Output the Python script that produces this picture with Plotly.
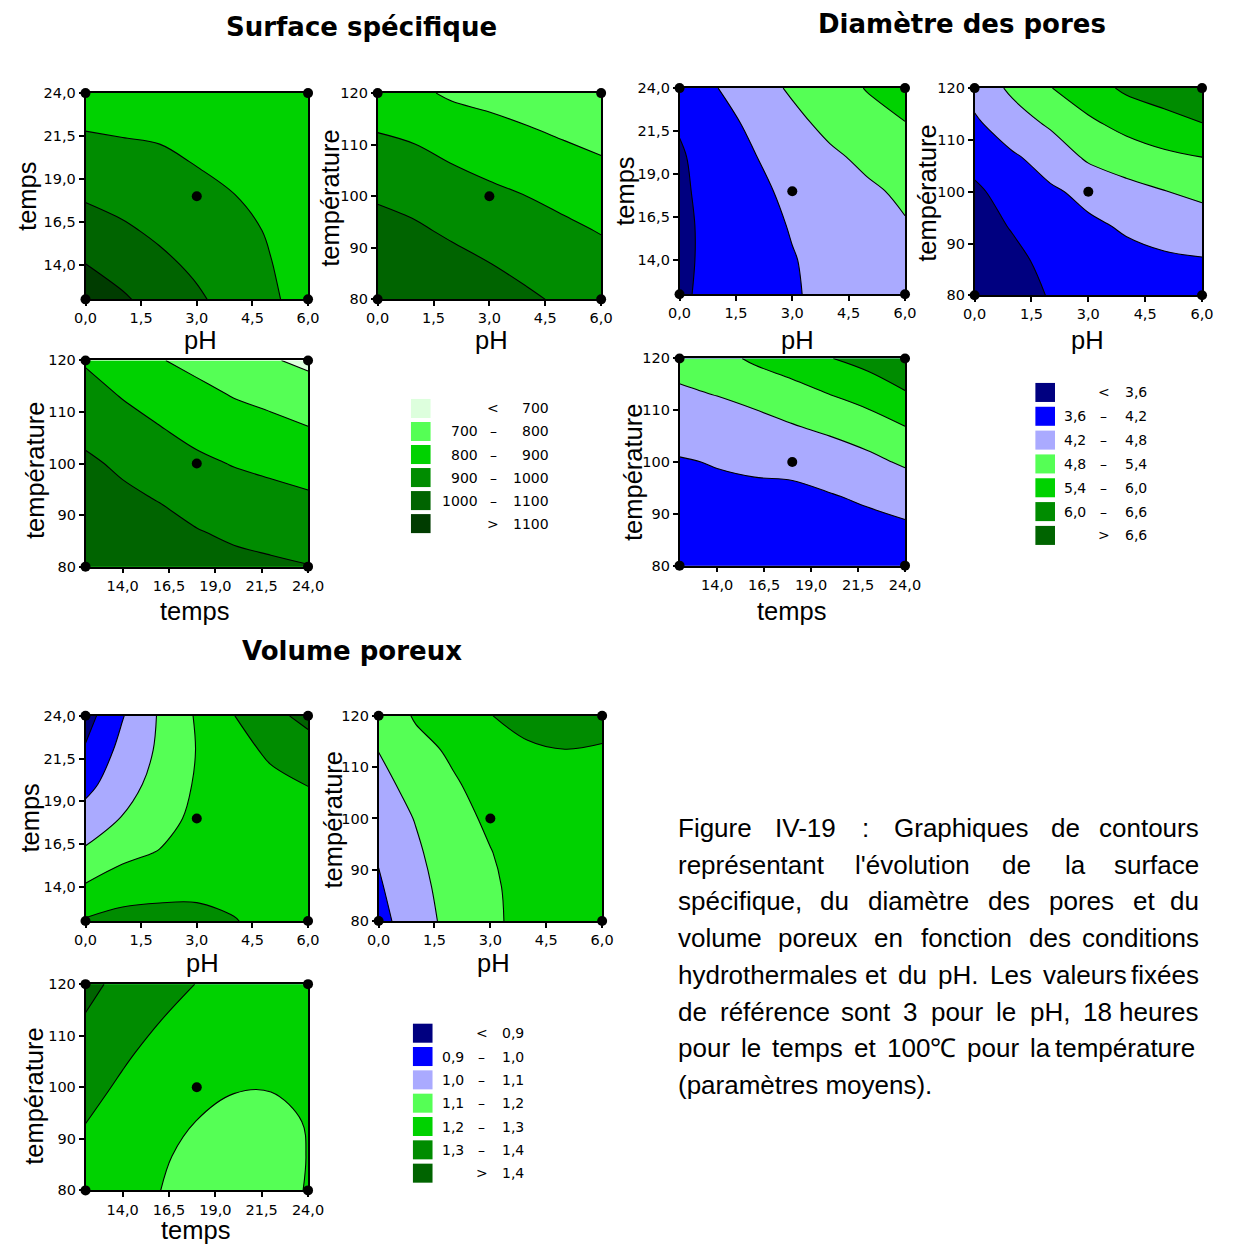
import plotly.graph_objects as go

W, H = 1234, 1246
# page offset / vertical scale of the rendered page
OFF_X, OFF_Y, SCALE_X, SCALE_Y = 1.0, 9.0, 0.997, 0.986

# ---- experimental domain (grid nodes of the response surfaces) ----
PH = [0, 1, 2, 3, 4, 5, 6]
TEMPS = [12, 14, 16, 18, 20, 22, 24]
TEMPERATURE = [80, 86.67, 93.33, 100, 106.67, 113.33, 120]

PH_REF, TEMPS_REF, TEMPERATURE_REF = 3, 18, 100

PH_TICKS = [0, 1.5, 3, 4.5, 6]
TEMPS_TICKS = [14, 16.5, 19, 21.5, 24]
TEMPERATURE_TICKS = [80, 90, 100, 110, 120]

# ---- contour levels and band colours ----
SURF_LEVELS = [700, 800, 900, 1000, 1100]
DIAM_LEVELS = [3.6, 4.2, 4.8, 5.4, 6.0, 6.6]
VOL_LEVELS = [0.9, 1.0, 1.1, 1.2, 1.3, 1.4]

SURF_COLORS = ['#ddffdd', '#55ff55', '#00d200', '#008c00', '#006400', '#003c00']
BG_COLORS = ['#000080', '#0000ff', '#aaaaff', '#55ff55', '#00d200', '#008c00', '#006400']

# ---- surface spécifique (rows = y nodes, columns = x nodes) ----
SURF_PH_TEMPS = [
    [1162, 1112, 1063, 1014, 964, 913, 863],
    [1102, 1064, 1021, 983, 943, 902, 865],
    [1045, 1014, 983, 954, 922, 893, 867],
    [990, 970, 950, 925, 901, 886, 868],
    [942, 929, 917, 896, 890, 880, 868],
    [895, 888, 884, 880, 878, 873, 866],
    [855, 853, 852, 860, 865, 866, 862],
]
SURF_PH_TEMPERATURE = [
    [1090, 1075, 1060, 1045, 1015, 985, 960],
    [1065, 1045, 1030, 1003, 975, 955, 935],
    [1036, 1014, 985, 960, 938, 920, 895],
    [989, 970, 945, 920, 900, 875, 850],
    [940, 924, 897, 875, 850, 830, 808],
    [893, 878, 848, 823, 803, 782, 765],
    [845, 820, 785, 772, 760, 745, 730],
]
SURF_TEMPS_TEMPERATURE = [
    [1085, 1075, 1060, 1040, 1025, 1015, 1003],
    [1060, 1045, 1030, 1005, 985, 970, 960],
    [1035, 1017, 995, 965, 945, 925, 912],
    [1015, 985, 950, 920, 895, 880, 860],
    [976, 938, 905, 870, 845, 830, 805],
    [934, 894, 858, 825, 795, 770, 745],
    [891, 850, 805, 775, 755, 708, 680],
]

# ---- diamètre des pores ----
DIAM_PH_TEMPS = [
    [3.53, 3.74, 3.95, 4.15, 4.34, 4.52, 4.68],
    [3.51, 3.73, 3.95, 4.17, 4.38, 4.57, 4.74],
    [3.50, 3.745, 3.99, 4.24, 4.45, 4.62, 4.76],
    [3.51, 3.80, 4.09, 4.31, 4.51, 4.71, 4.90],
    [3.54, 3.86, 4.18, 4.46, 4.70, 4.93, 5.15],
    [3.65, 3.98, 4.34, 4.65, 4.96, 5.20, 5.39],
    [3.82, 4.19, 4.55, 4.88, 5.16, 5.43, 5.70],
]
DIAM_PH_TEMPERATURE = [
    [3.00, 3.20, 3.66, 3.90, 3.95, 3.95, 3.95],
    [3.15, 3.42, 3.80, 4.00, 4.08, 4.12, 4.16],
    [3.30, 3.65, 3.96, 4.12, 4.25, 4.40, 4.52],
    [3.47, 3.90, 4.13, 4.32, 4.62, 4.78, 4.93],
    [3.85, 4.13, 4.42, 4.90, 5.08, 5.28, 5.40],
    [4.12, 4.52, 4.90, 5.30, 5.60, 5.80, 6.00],
    [4.40, 4.92, 5.38, 5.75, 6.10, 6.30, 6.62],
]
DIAM_TEMPS_TEMPERATURE = [
    [3.75, 3.78, 3.80, 3.82, 3.84, 3.86, 3.88],
    [3.90, 3.93, 3.96, 3.99, 4.00, 4.04, 4.10],
    [4.03, 4.07, 4.11, 4.13, 4.17, 4.27, 4.40],
    [4.16, 4.23, 4.27, 4.28, 4.44, 4.65, 4.88],
    [4.43, 4.50, 4.60, 4.75, 4.92, 5.10, 5.38],
    [4.72, 4.83, 4.98, 5.20, 5.42, 5.65, 5.95],
    [5.02, 5.20, 5.50, 5.70, 5.98, 6.20, 6.65],
]

# ---- volume poreux ----
VOL_PH_TEMPS = [
    [1.310, 1.335, 1.345, 1.335, 1.305, 1.270, 1.235],
    [1.210, 1.250, 1.260, 1.270, 1.270, 1.255, 1.235],
    [1.115, 1.175, 1.205, 1.245, 1.255, 1.250, 1.245],
    [1.040, 1.105, 1.160, 1.225, 1.250, 1.260, 1.270],
    [0.970, 1.060, 1.135, 1.210, 1.255, 1.280, 1.302],
    [0.910, 1.030, 1.115, 1.203, 1.270, 1.315, 1.355],
    [0.860, 0.995, 1.110, 1.210, 1.298, 1.370, 1.430],
]
VOL_PH_TEMPERATURE = [
    [0.975, 1.045, 1.140, 1.180, 1.235, 1.255, 1.260],
    [0.990, 1.065, 1.148, 1.185, 1.235, 1.255, 1.260],
    [1.008, 1.085, 1.158, 1.197, 1.240, 1.260, 1.262],
    [1.040, 1.105, 1.170, 1.215, 1.250, 1.265, 1.268],
    [1.070, 1.135, 1.190, 1.235, 1.265, 1.277, 1.278],
    [1.102, 1.170, 1.215, 1.262, 1.290, 1.299, 1.293],
    [1.135, 1.210, 1.245, 1.298, 1.325, 1.340, 1.330],
]
VOL_TEMPS_TEMPERATURE = [
    [1.240, 1.215, 1.201, 1.165, 1.140, 1.135, 1.210],
    [1.270, 1.235, 1.210, 1.180, 1.155, 1.150, 1.203],
    [1.302, 1.260, 1.225, 1.199, 1.178, 1.175, 1.205],
    [1.333, 1.285, 1.245, 1.222, 1.205, 1.204, 1.225],
    [1.364, 1.315, 1.270, 1.245, 1.230, 1.230, 1.245],
    [1.395, 1.345, 1.303, 1.270, 1.255, 1.255, 1.265],
    [1.425, 1.375, 1.335, 1.298, 1.280, 1.280, 1.290],
]

CAPTION_LINES = [
    "Figure IV-19 : Graphiques de contours",
    "représentant l'évolution de la surface",
    "spécifique, du diamètre des pores et du",
    "volume poreux en fonction des conditions",
    "hydrothermales et du pH. Les valeurs fixées",
    "de référence sont 3 pour le pH, 18 heures",
    "pour le temps et 100℃ pour la température",
    "(paramètres moyens).",
]


def fr(v, dec=1):
    return f"{v:.{dec}f}".replace('.', ',')


def px(x):
    return (x - OFF_X) / SCALE_X / W


def py(y):
    return 1 - (y - OFF_Y) / SCALE_Y / H


AXES = {
    'pH': (PH, PH_TICKS, [fr(v) for v in PH_TICKS], PH_REF),
    'temps': (TEMPS, TEMPS_TICKS, [fr(v) for v in TEMPS_TICKS], TEMPS_REF),
    'température': (TEMPERATURE, TEMPERATURE_TICKS, [str(v) for v in TEMPERATURE_TICKS], TEMPERATURE_REF),
}

# panel: data, x variable, y variable, levels, colours, plot box (px), x-title pos, y-title pos
PANELS = [
    (SURF_PH_TEMPS, 'pH', 'temps', SURF_LEVELS, SURF_COLORS, (76, 94, 303, 300), (193, 341), (17, 197)),
    (SURF_PH_TEMPERATURE, 'pH', 'température', SURF_LEVELS, SURF_COLORS, (374, 94, 602, 300), (490, 341), (326, 199)),
    (SURF_TEMPS_TEMPERATURE, 'temps', 'température', SURF_LEVELS, SURF_COLORS, (76, 361, 303, 567), (187, 611), (24, 471)),
    (DIAM_PH_TEMPS, 'pH', 'temps', DIAM_LEVELS, BG_COLORS, (682, 89, 912, 295), (802, 341), (627, 192)),
    (DIAM_PH_TEMPERATURE, 'pH', 'température', DIAM_LEVELS, BG_COLORS, (983, 89, 1215, 296), (1098, 341), (935, 194)),
    (DIAM_TEMPS_TEMPERATURE, 'temps', 'température', DIAM_LEVELS, BG_COLORS, (682, 359, 912, 566), (796, 611), (634, 472)),
    (VOL_PH_TEMPS, 'pH', 'temps', VOL_LEVELS, BG_COLORS, (76, 716, 303, 921), (195, 963), (19, 818)),
    (VOL_PH_TEMPERATURE, 'pH', 'température', VOL_LEVELS, BG_COLORS, (375, 716, 603, 921), (492, 963), (328, 820)),
    (VOL_TEMPS_TEMPERATURE, 'temps', 'température', VOL_LEVELS, BG_COLORS, (76, 984, 303, 1190), (188, 1230), (24, 1096)),
]

TICK_FONT = dict(family='DejaVu Sans', size=14.5, color='black')
AXIS_TITLE_FONT = dict(family='Liberation Sans', size=25.5, color='black')
AXIS_STYLE = dict(showline=True, mirror=True, linecolor='black', linewidth=1.5,
                  ticks='outside', ticklen=5, tickwidth=1.5, tickcolor='black',
                  showgrid=False, zeroline=False, fixedrange=True, tickfont=TICK_FONT)

fig = go.Figure()
layout = {}
annotations = []
shapes = []

for i, (z, xv, yv, lv, colors, box, xt, yt) in enumerate(PANELS, start=1):
    key = '' if i == 1 else str(i)
    xa, ya = 'x' + key, 'y' + key
    xnodes, xticks, xtext, xref = AXES[xv]
    ynodes, yticks, ytext, yref = AXES[yv]
    n = len(colors)
    scale = [[k / (n - 1), c] for k, c in enumerate(colors)]
    fig.add_trace(go.Contour(
        x=xnodes, y=ynodes, z=z, xaxis=xa, yaxis=ya,
        autocontour=False,
        contours=dict(start=lv[0], end=lv[-1], size=round(lv[1] - lv[0], 6), coloring='fill'),
        colorscale=scale, showscale=False,
        line=dict(color='black', width=1.1, smoothing=1.0),
        hoverinfo='skip'))
    # design corners and reference (centre) point
    x0n, x1n = min(xnodes), max(xnodes)
    y0n, y1n = min(ynodes), max(ynodes)
    fig.add_trace(go.Scatter(
        x=[x0n, x1n, x0n, x1n, xref], y=[y0n, y0n, y1n, y1n, yref],
        mode='markers', marker=dict(color='black', size=10),
        cliponaxis=False, xaxis=xa, yaxis=ya, hoverinfo='skip', showlegend=False))
    bx0, by0, bx1, by1 = box
    layout['xaxis' + key] = dict(domain=[px(bx0), px(bx1)], anchor=ya, range=[x0n, x1n],
                                 tickvals=xticks, ticktext=xtext, **AXIS_STYLE)
    layout['yaxis' + key] = dict(domain=[py(by1), py(by0)], anchor=xa, range=[y0n, y1n],
                                 tickvals=yticks, ticktext=ytext, **AXIS_STYLE)
    annotations.append(dict(text=xv, x=px(xt[0]), y=py(xt[1]), xref='paper', yref='paper',
                            showarrow=False, xanchor='center', yanchor='middle', font=AXIS_TITLE_FONT))
    annotations.append(dict(text=yv, x=px(yt[0]), y=py(yt[1]), xref='paper', yref='paper',
                            showarrow=False, xanchor='center', yanchor='middle', textangle=-90,
                            font=AXIS_TITLE_FONT))

# ---- group titles ----
TITLE_FONT = dict(family='DejaVu Sans', size=26, color='black')
for text, x, y in [("Surface spécifique", 358, 28), ("Diamètre des pores", 970, 25), ("Volume poreux", 348, 651)]:
    annotations.append(dict(text=f"<b>{text}</b>", x=px(x), y=py(y), xref='paper', yref='paper',
                            showarrow=False, xanchor='center', yanchor='middle', font=TITLE_FONT))

# ---- band legends ----
LEG_FONT = dict(family='DejaVu Sans', size=14, color='black')


def add_legend(levels, colors, sx, y_first, step, left_x, mid_x, right_x, label):
    n = len(colors)
    for k in range(n):
        y = y_first + k * step
        shapes.append(dict(type='rect', xref='paper', yref='paper', x0=px(sx), x1=px(sx + 20),
                           y0=py(y + 9.5), y1=py(y - 9.5), fillcolor=colors[k], line=dict(width=0)))
        if k == 0:
            items = [('<', mid_x, 'center'), (label(levels[0]), right_x, 'right')]
        elif k == n - 1:
            items = [('>', mid_x, 'center'), (label(levels[-1]), right_x, 'right')]
        else:
            items = [(label(levels[k - 1]), left_x, 'right'), ('–', mid_x, 'center'),
                     (label(levels[k]), right_x, 'right')]
        for text, x, anchor in items:
            annotations.append(dict(text=text, x=px(x), y=py(y), xref='paper', yref='paper',
                                    showarrow=False, xanchor=anchor, yanchor='middle', font=LEG_FONT))


add_legend(SURF_LEVELS, SURF_COLORS, 408, 409, 23.0, 478, 492, 551, lambda v: str(v))
add_legend(DIAM_LEVELS, BG_COLORS, 1045, 393, 23.8, 1099, 1115, 1161, fr)
add_legend(VOL_LEVELS, BG_COLORS, 410, 1033, 23.3, 464, 480, 525, fr)

# ---- justified caption ----
ARIAL = {' ': 278, '(': 333, ')': 333, ',': 278, '-': 333, '.': 278, ':': 278, "'": 191,
         'F': 611, 'I': 278, 'V': 667, 'G': 778, 'L': 556, 'H': 722, '℃': 1000,
         'a': 556, 'b': 556, 'c': 500, 'd': 556, 'e': 556, 'f': 278, 'g': 556, 'h': 556,
         'i': 222, 'j': 222, 'k': 500, 'l': 222, 'm': 833, 'n': 556, 'o': 556, 'p': 556,
         'q': 556, 'r': 333, 's': 500, 't': 278, 'u': 556, 'v': 500, 'w': 722, 'x': 500,
         'y': 500, 'z': 500, 'é': 556, 'è': 556}
CAP_SIZE = 26
CAP_FONT = dict(family='Liberation Sans', size=CAP_SIZE, color='black')
CAP_LEFT, CAP_RIGHT = 678, 1214


def width(word):
    return sum(ARIAL.get(c, 556) for c in word) / 1000 * CAP_SIZE


for li, line in enumerate(CAPTION_LINES):
    y = 828 + li * 36.7
    words = line.split(' ')
    if li == len(CAPTION_LINES) - 1:
        annotations.append(dict(text=line, x=px(CAP_LEFT), y=py(y), xref='paper', yref='paper',
                                showarrow=False, xanchor='left', yanchor='middle', font=CAP_FONT))
        continue
    right = 1210 if li == 6 else CAP_RIGHT
    widths = [width(w) for w in words]
    gap = (right - CAP_LEFT - sum(widths)) / (len(words) - 1)
    x = CAP_LEFT
    for wi, (wd, wdt) in enumerate(zip(words, widths)):
        if wi == len(words) - 1:
            annotations.append(dict(text=wd, x=px(right), y=py(y), xref='paper', yref='paper',
                                    showarrow=False, xanchor='right', yanchor='middle', font=CAP_FONT))
        else:
            annotations.append(dict(text=wd, x=px(x), y=py(y), xref='paper', yref='paper',
                                    showarrow=False, xanchor='left', yanchor='middle', font=CAP_FONT))
        x += wdt + gap

fig.update_layout(
    width=W, height=H, margin=dict(l=0, r=0, t=0, b=0),
    paper_bgcolor='white', plot_bgcolor='white', showlegend=False,
    font=dict(family='DejaVu Sans', color='black'),
    annotations=annotations, shapes=shapes, **layout)

fig.write_html("out.html")
